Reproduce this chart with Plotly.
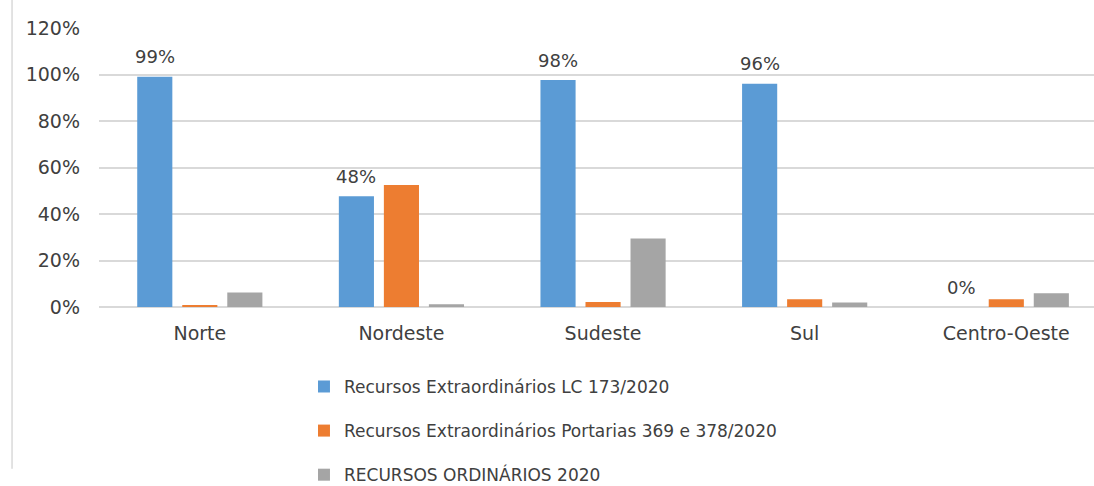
import plotly.graph_objects as go

regions = ["Norte", "Nordeste", "Sudeste", "Sul", "Centro-Oeste"]
series_names = [
    "Recursos Extraordinários LC 173/2020",
    "Recursos Extraordinários Portarias 369 e 378/2020",
    "RECURSOS ORDINÁRIOS 2020",
]
lc173 = [0.99, 0.476, 0.976, 0.96, 0.0]
portarias = [0.008, 0.525, 0.021, 0.033, 0.033]
ordinarios = [0.062, 0.012, 0.295, 0.019, 0.059]
lc173_labels = ["99%", "48%", "98%", "96%", "0%"]
colors = ["#5B9BD5", "#ED7D31", "#A5A5A5"]

FONT = "DejaVu Sans"

fig = go.Figure()
for i, (name, vals) in enumerate(zip(series_names, [lc173, portarias, ordinarios])):
    fig.add_trace(go.Bar(
        x=regions, y=vals, name=name, marker_color=colors[i],
        marker_line_width=0, legendgroup=f"g{i}",
        hoverinfo="skip",
    ))

for r, v, t in zip(regions, lc173, lc173_labels):
    fig.add_annotation(x=r, y=v, text=t, showarrow=False, xshift=-45, yshift=20,
                       font=dict(family=FONT, size=18, color="#404040"))

# left border line of the chart frame
fig.add_shape(type="line", xref="paper", yref="paper", x0=-0.0874, x1=-0.0874,
              y0=1.1, y1=-0.58, line=dict(color="#D9D9D9", width=1.5))

fig.update_layout(
    width=1094, height=486,
    margin=dict(l=99, r=0, t=28, b=179, pad=0, autoexpand=False),
    paper_bgcolor="white", plot_bgcolor="white",
    barmode="group", bargap=0.33, bargroupgap=0.22,
    showlegend=True,
    legend=dict(
        orientation="v", x=0.206, xanchor="left", y=-0.222, yanchor="top",
        font=dict(family=FONT, size=17, color="#404040"),
        tracegroupgap=19, itemwidth=30, bgcolor="rgba(0,0,0,0)",
    ),
    font=dict(family=FONT, color="#595959"),
)
fig.update_xaxes(
    type="category", range=[-0.5, 4.435], showgrid=False, zeroline=False,
    showline=False, ticks="", tickfont=dict(family=FONT, size=19, color="#404040"),
    ticklabelstandoff=13,
)
fig.update_yaxes(
    range=[0, 1.2], dtick=0.2, tickformat=".0%", showgrid=True,
    gridcolor="#D9D9D9", gridwidth=1.5, zeroline=True, zerolinecolor="#D9D9D9",
    zerolinewidth=1.5, showline=False, ticks="",
    tickfont=dict(family=FONT, size=19, color="#404040"), ticklabelstandoff=18,
)

fig.write_html("out.html")
